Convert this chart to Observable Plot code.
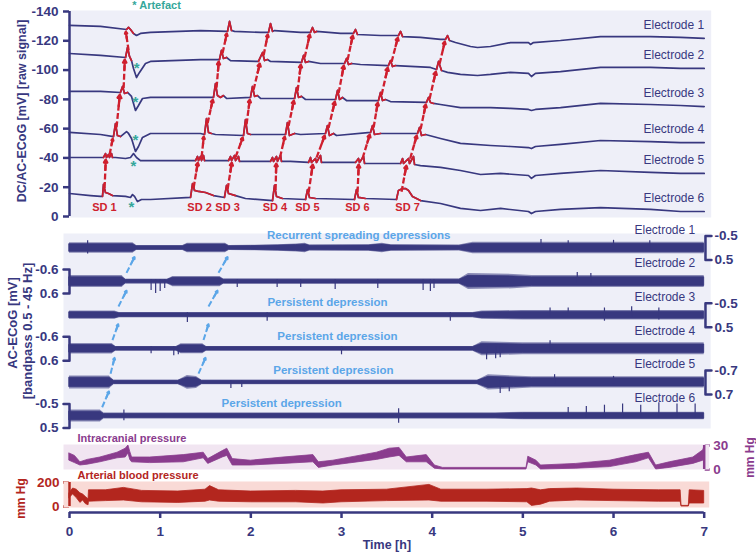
<!DOCTYPE html>
<html><head><meta charset="utf-8">
<script src="https://cdn.jsdelivr.net/npm/d3@7"></script>
<script src="https://cdn.jsdelivr.net/npm/@observablehq/plot@0.6"></script>
<style>
body{margin:0;background:#fff;}
#chart{position:relative;width:756px;height:554px;overflow:hidden;}
#chart g[aria-label*="axis"] line,#chart g[aria-label*="axis tick"] path{stroke-width:2.5px;}
</style></head>
<body><div id="chart"></div>
<script>
// ---------------- DATA ----------------
const electrodeNames = ["Electrode 1","Electrode 2","Electrode 3","Electrode 4","Electrode 5","Electrode 6"];
const sdNames = ["SD 1","SD 2","SD 3","SD 4","SD 5","SD 6","SD 7"];
const sdLabelT = [0.386,1.434,1.743,2.266,2.625,3.176,3.728];
const yTicksTop = [0,-20,-40,-60,-80,-100,-120,-140];
const xTicks = [0,1,2,3,4,5,6,7];

// DC/AC-ECoG raw traces [time h, mV]
const E1 = [[0,-130.5],[0.342,-129.8],[0.629,-127.7],[0.651,-129.1],[0.673,-127.7],[0.706,-125.0],[0.739,-123.6],[0.783,-125.0],[0.893,-125.7],[1.445,-127.0],[1.743,-126.4],[1.765,-133.2],[1.787,-127.0],[1.820,-126.4],[2.107,-125.7],[2.195,-125.7],[2.217,-131.8],[2.239,-126.4],[2.261,-127.0],[2.548,-125.7],[2.658,-125.7],[2.680,-129.1],[2.702,-125.7],[2.724,-126.4],[2.989,-125.0],[3.132,-125.0],[3.154,-127.7],[3.176,-124.3],[3.430,-123.6],[3.628,-123.6],[3.651,-126.4],[3.673,-122.9],[3.871,-122.3],[4.092,-120.9],[4.147,-120.9],[4.169,-123.6],[4.191,-120.2],[4.257,-118.8],[4.423,-116.1],[4.500,-115.4],[4.643,-116.1],[4.864,-118.8],[5.062,-118.8],[5.084,-117.5],[5.117,-118.8],[5.415,-120.2],[5.856,-122.9],[6.408,-122.9],[6.739,-122.3],[7,-121.6]];
const E2 = [[0,-111.3],[0.342,-110.0],[0.618,-108.6],[0.640,-115.4],[0.662,-109.3],[0.684,-106.5],[0.706,-101.1],[0.739,-94.9],[0.772,-98.4],[0.838,-104.5],[0.893,-105.9],[1.445,-107.2],[1.654,-107.2],[1.676,-113.4],[1.698,-107.9],[1.732,-108.6],[1.776,-106.5],[2.084,-105.9],[2.129,-112.0],[2.151,-106.5],[2.184,-107.2],[2.217,-105.9],[2.559,-105.2],[2.581,-110.0],[2.603,-105.2],[2.636,-105.9],[2.768,-104.5],[3.033,-104.5],[3.055,-107.9],[3.077,-103.8],[3.110,-104.5],[3.209,-103.8],[3.518,-103.1],[3.540,-106.5],[3.562,-102.4],[3.595,-103.1],[3.981,-101.8],[4.048,-100.4],[4.070,-105.9],[4.103,-99.7],[4.169,-98.4],[4.312,-97.0],[4.500,-96.3],[4.643,-97.0],[4.864,-98.4],[5.062,-97.7],[5.095,-95.6],[5.139,-97.7],[5.415,-99.0],[5.856,-101.8],[6.408,-101.8],[6.739,-101.1],[7,-101.1]];
const E3 = [[0,-85.4],[0.342,-85.4],[0.562,-84.7],[0.585,-88.8],[0.607,-84.0],[0.640,-84.7],[0.684,-82.0],[0.728,-72.4],[0.761,-75.8],[0.805,-80.6],[0.893,-81.3],[1.445,-81.3],[1.588,-81.3],[1.610,-90.8],[1.632,-82.6],[1.665,-81.3],[1.698,-82.6],[1.732,-80.6],[1.996,-81.3],[2.018,-88.8],[2.041,-82.0],[2.073,-82.6],[2.107,-80.6],[2.482,-80.6],[2.504,-88.1],[2.526,-81.3],[2.559,-82.0],[2.603,-79.9],[2.934,-79.9],[2.956,-86.1],[2.978,-79.9],[3.011,-81.3],[3.055,-79.2],[3.408,-79.2],[3.430,-84.7],[3.452,-79.2],[3.485,-79.9],[3.540,-78.5],[3.937,-77.9],[3.959,-81.3],[3.981,-77.9],[4.015,-77.2],[4.092,-76.5],[4.312,-74.4],[4.643,-74.4],[4.864,-73.8],[5.062,-73.1],[5.095,-72.4],[5.139,-73.1],[5.415,-74.4],[5.856,-77.2],[6.408,-76.5],[6.739,-75.8],[7,-75.1]];
const E4 = [[0,-57.4],[0.342,-56.0],[0.485,-54.6],[0.507,-63.5],[0.529,-55.3],[0.562,-54.6],[0.629,-58.0],[0.651,-56.7],[0.684,-53.3],[0.728,-44.4],[0.761,-47.8],[0.805,-54.0],[0.893,-56.7],[1.445,-56.7],[1.489,-56.0],[1.511,-66.9],[1.533,-57.4],[1.566,-56.7],[1.610,-56.0],[1.919,-55.3],[1.941,-66.2],[1.963,-56.7],[1.996,-56.0],[2.382,-56.0],[2.404,-64.2],[2.426,-55.3],[2.482,-56.7],[2.548,-56.0],[2.823,-56.7],[2.845,-62.1],[2.867,-55.3],[2.912,-56.7],[2.945,-55.3],[3.320,-57.4],[3.342,-62.1],[3.364,-56.0],[3.430,-56.7],[3.838,-56.7],[3.860,-60.8],[3.882,-55.3],[3.926,-56.0],[4.092,-53.3],[4.312,-49.9],[4.643,-48.5],[4.864,-47.8],[5.062,-47.1],[5.095,-46.4],[5.139,-47.8],[5.415,-49.2],[5.856,-51.9],[6.408,-51.2],[6.739,-50.5],[7,-50.5]];
const E5 = [[0,-40.3],[0.342,-40.3],[0.375,-40.3],[0.397,-43.0],[0.408,-40.3],[0.430,-42.3],[0.441,-40.3],[0.463,-43.0],[0.474,-40.3],[0.507,-40.3],[0.618,-39.6],[0.673,-40.3],[0.706,-43.0],[0.739,-40.3],[0.783,-38.2],[0.893,-38.2],[1.390,-38.2],[1.412,-41.0],[1.423,-38.2],[1.445,-41.0],[1.456,-38.2],[1.478,-41.7],[1.489,-38.2],[1.555,-38.2],[1.754,-38.2],[1.776,-41.0],[1.787,-38.2],[1.820,-41.7],[1.831,-38.2],[1.864,-41.0],[1.875,-37.6],[1.941,-37.6],[2.217,-37.6],[2.239,-40.3],[2.250,-37.6],[2.283,-41.0],[2.294,-37.6],[2.327,-41.7],[2.338,-37.6],[2.437,-37.6],[2.636,-36.9],[2.658,-40.3],[2.669,-36.9],[2.713,-39.6],[2.724,-36.9],[2.768,-41.7],[2.779,-36.9],[2.879,-36.9],[3.154,-36.9],[3.187,-39.6],[3.198,-36.9],[3.243,-41.0],[3.254,-36.2],[3.375,-36.2],[3.651,-36.2],[3.673,-39.6],[3.684,-36.2],[3.739,-39.6],[3.750,-36.2],[3.794,-41.0],[3.805,-35.5],[3.871,-34.8],[4.092,-33.5],[4.312,-31.4],[4.533,-28.7],[4.754,-29.4],[5.062,-28.0],[5.095,-26.0],[5.139,-28.0],[5.415,-29.4],[5.856,-31.4],[6.408,-30.1],[6.739,-29.4],[7,-29.4]];
const E6 = [[0,-15.7],[0.232,-14.3],[0.342,-13.7],[0.364,-13.7],[0.375,-21.9],[0.397,-16.4],[0.430,-15.7],[0.474,-14.3],[0.618,-13.7],[0.673,-13.0],[0.695,-15.0],[0.717,-13.7],[0.750,-10.2],[0.794,-11.6],[0.893,-11.6],[1.335,-13.0],[1.357,-22.5],[1.379,-17.8],[1.423,-17.1],[1.500,-16.4],[1.588,-14.3],[1.709,-13.0],[1.732,-21.2],[1.754,-15.7],[1.831,-14.3],[1.941,-12.3],[2.239,-10.9],[2.261,-21.2],[2.283,-13.7],[2.349,-12.3],[2.603,-11.6],[2.625,-18.4],[2.647,-13.0],[2.713,-12.3],[3.143,-11.6],[3.165,-18.4],[3.187,-13.0],[3.265,-12.3],[3.606,-11.6],[3.628,-17.8],[3.673,-19.1],[3.706,-19.1],[3.739,-17.8],[3.783,-13.7],[3.871,-10.9],[4.092,-8.9],[4.312,-5.5],[4.533,-4.1],[4.754,-5.5],[5.062,-3.4],[5.095,-2.0],[5.139,-3.4],[5.415,-4.8],[5.856,-6.1],[6.408,-4.8],[6.739,-3.4],[7,-3.4]];

// time windows drawn in red (spreading depressions), per electrode 1..6
const sdWindows = [
  [[0.629,0.706],[1.743,1.787],[2.195,2.239],[2.658,2.724],[3.132,3.176],[3.628,3.673],[4.147,4.191]],
  [[0.618,0.684],[1.654,1.732],[2.084,2.184],[2.559,2.636],[3.033,3.110],[3.518,3.595],[4.048,4.103]],
  [[0.562,0.640],[1.588,1.698],[1.996,2.073],[2.482,2.559],[2.934,3.011],[3.408,3.485],[3.937,4.015]],
  [[0.485,0.562],[1.489,1.566],[1.919,1.996],[2.382,2.482],[2.823,2.912],[3.320,3.430],[3.838,3.926]],
  [[0.375,0.474],[1.390,1.489],[1.754,1.875],[2.217,2.338],[2.636,2.779],[3.154,3.254],[3.651,3.805]],
  [[0.364,0.474],[1.335,1.588],[1.709,1.831],[2.239,2.349],[2.603,2.713],[3.143,3.265],[3.606,3.871]]
];
// SD propagation chains, electrode 6 -> 1: [time, peak mV, baseline mV]
const sdSpikes = [
  [[0.375,-21.9,-13.7],[0.430,-43.0,-40.3],[0.507,-63.5,-54.6],[0.585,-88.8,-84.7],[0.640,-115.4,-108.6],[0.651,-129.1,-127.7]],
  [[1.357,-22.5,-13.0],[1.445,-41.7,-38.2],[1.511,-66.9,-56.0],[1.610,-90.8,-81.3],[1.676,-113.4,-107.2],[1.765,-133.2,-126.4]],
  [[1.732,-21.2,-13.0],[1.820,-41.7,-38.2],[1.941,-66.2,-55.3],[2.018,-88.8,-81.3],[2.129,-112.0,-105.9],[2.217,-131.8,-125.7]],
  [[2.261,-21.2,-10.9],[2.310,-41.7,-37.6],[2.404,-64.2,-56.0],[2.504,-88.1,-80.6],[2.581,-110.0,-105.2],[2.680,-129.1,-125.7]],
  [[2.625,-18.4,-11.6],[2.713,-41.7,-36.9],[2.845,-62.1,-56.7],[2.956,-86.1,-79.9],[3.055,-107.9,-104.5],[3.154,-127.7,-125.0]],
  [[3.165,-18.4,-11.6],[3.220,-41.0,-36.9],[3.342,-62.1,-57.4],[3.430,-84.7,-79.2],[3.540,-106.5,-103.1],[3.651,-126.4,-123.6]],
  [[3.650,-19.1,-11.6],[3.745,-41.0,-36.2],[3.860,-60.8,-56.7],[3.959,-81.3,-77.9],[4.070,-105.9,-100.4],[4.169,-123.6,-120.9]]
];
const asteriskPos = [[0.740,-103.8],[0.728,-80.6],[0.728,-54.6],[0.706,-36.9],[0.684,-8.9]];
const artefactLabelT = 0.96;

// AC-ECoG (bandpass) : half-amplitude envelope [time h, mV] per electrode
const midRanges = [0.5,0.6,0.5,0.6,0.7,0.5];
const A1 = [[0,0.22],[0.7,0.22],[0.74,0.1],[1.25,0.1],[1.3,0.2],[1.72,0.2],[1.76,0.1],[2.0,0.11],[2.3,0.14],[2.5,0.17],[2.6,0.2],[2.65,0.13],[3.3,0.14],[3.45,0.2],[3.55,0.14],[4.3,0.12],[4.45,0.24],[7,0.24]];
const A2 = [[0,0.3],[0.58,0.3],[0.62,0.12],[1.08,0.12],[1.14,0.26],[1.66,0.26],[1.7,0.13],[4.3,0.13],[4.4,0.4],[4.9,0.36],[5.1,0.3],[7,0.3]];
const A3 = [[0,0.17],[0.5,0.17],[0.55,0.11],[4.45,0.11],[4.55,0.17],[5.0,0.2],[7,0.2]];
const A4 = [[0,0.26],[0.47,0.26],[0.51,0.12],[1.18,0.12],[1.23,0.25],[1.47,0.25],[1.51,0.12],[4.45,0.12],[4.55,0.35],[5.0,0.3],[7,0.3]];
const A5 = [[0,0.38],[0.44,0.38],[0.49,0.13],[1.2,0.13],[1.3,0.4],[1.4,0.35],[1.46,0.13],[4.5,0.13],[4.62,0.45],[4.9,0.38],[5.1,0.33],[7,0.33]];
const A6 = [[0,0.25],[0.34,0.25],[0.38,0.12],[4.7,0.13],[5.0,0.16],[7,0.16]];
// isolated deflections [electrode, time, low mV, high mV]
const midSpikes = [[1,0.2,-0.3,0.25],[1,5.2,-0.35,0.1],[1,5.5,-0.3,0.1],[1,6.0,-0.32,0.1],[1,6.4,-0.3,0.1],[2,0.9,-0.1,0.45],[2,0.95,-0.1,0.6],[2,1.0,-0.1,0.5],[2,1.05,-0.1,0.35],[2,1.85,-0.1,0.3],[2,2.29,-0.1,0.3],[2,2.55,-0.1,0.3],[2,2.93,-0.1,0.4],[2,3.4,-0.1,0.35],[2,3.9,-0.1,0.45],[2,3.98,-0.1,0.5],[2,4.02,-0.1,0.35],[2,5.6,-0.45,0.1],[2,5.75,-0.4,0.1],[3,1.3,-0.1,0.3],[3,2.18,-0.1,0.25],[3,4.2,-0.1,0.25],[3,5.3,-0.3,0.1],[3,5.5,-0.3,0.1],[3,5.9,-0.3,0.25],[3,6.2,-0.35,0.1],[3,6.5,-0.3,0.2],[4,0.9,-0.1,0.25],[4,1.15,-0.1,0.35],[4,1.2,-0.1,0.3],[4,3.0,-0.1,0.3],[4,4.6,-0.1,0.55],[4,4.7,-0.1,0.5],[4,4.75,-0.1,0.45],[4,5.3,-0.4,0.1],[5,1.78,-0.1,0.35],[5,1.9,-0.1,0.3],[5,4.75,-0.1,0.65],[5,4.85,-0.1,0.55],[5,5.35,-0.45,0.1],[5,6.0,-0.35,0.1],[6,0.6,-0.25,0.2],[6,3.63,-0.3,0.3],[6,5.5,-0.35,0.1],[6,5.7,-0.4,0.1],[6,5.9,-0.45,0.1],[6,6.1,-0.5,0.1],[6,6.3,-0.45,0.1],[6,6.5,-0.55,0.1],[6,6.7,-0.5,0.1],[6,6.9,-0.5,0.1]];
// depression propagation arrows [from electrode, time, to electrode, time]
const blueArrows = [[6,0.36,5,0.435],[5,0.453,4,0.497],[4,0.474,3,0.537],[3,0.54,2,0.629],[2,0.629,1,0.717],[5,1.423,4,1.5],[4,1.478,3,1.533],[3,1.533,2,1.632],[2,1.643,1,1.743]];
const blueTexts = [["Recurrent spreading depressions",1,3.19],["Persistent depression",3,2.845],["Persistent depression",4,2.955],["Persistent depression",5,2.91],["Persistent depression",6,2.34]];
const leftBrackets = [2,4,6];
const rightBrackets = [1,3,5];

// Intracranial pressure envelope [time h, low, high] mm Hg
const icp = [[0,11,20],[0.06,8,17],[0.12,5,9],[0.2,6,12],[0.34,9,15],[0.53,14,21],[0.62,15,26],[0.65,20,30],[0.67,12,22],[0.69,9,15],[0.89,8,15],[1.26,9,18],[1.48,14,21],[1.53,7,13],[1.69,15,23],[1.74,17,26],[1.80,5,13],[2.0,5,11],[2.36,7,15],[2.69,9,18],[2.75,2,9],[2.91,5,11],[3.39,12,21],[3.53,15,26],[3.64,17,27],[3.72,9,15],[3.94,9,18],[4.03,1,5],[4.12,0,2],[5.04,0,2],[5.06,9,16],[5.15,5,11],[5.2,0,5],[5.59,1,7],[5.96,3,11],[6.25,9,18],[6.39,14,21],[6.47,0,5],[6.62,2,9],[6.88,7,15],[6.99,11,24],[7,15,28]];
// Arterial blood pressure envelope [time h, low, high] mm Hg
const abp = [[0,70,110],[0.04,100,150],[0.08,70,140],[0.12,30,110],[0.15,50,100],[0.18,20,80],[0.21,10,60],[0.215,40,135],[0.4,45,135],[0.6,50,155],[0.8,35,130],[1.2,30,125],[1.5,40,140],[1.55,50,170],[1.65,40,135],[2.0,35,125],[2.5,35,130],[2.8,25,125],[3.0,35,135],[3.5,45,140],[3.97,50,180],[4.1,40,140],[4.6,40,140],[5.05,35,145],[5.1,5,150],[5.2,15,135],[5.3,40,145],[5.6,50,150],[6.0,45,140],[6.5,40,135],[6.74,40,135],[6.75,0,5],[6.83,0,5],[6.84,25,135],[7,25,130]];

// ---------------- STYLE ----------------
const NAVY="#38387f", RED="#cf1f2e", TEAL="#35a79b", BLUE="#5ba6e8", BG="#eeeff8";
const PURPLE="#8a3c8e", PURPLE_BG="#f1e5f1", ABP_RED="#b3261e", ABP_BG="#f9dad6";
const FONT="Liberation Sans, Arial, Helvetica, sans-serif";
const css = c => `font-family:${FONT};font-size:13.5px;font-weight:bold;color:${c};background:transparent;overflow:visible;`;
const W=756, ML=69, MR=52.3;
const chart=document.getElementById("chart");
function place(node, top){const d=document.createElement("div");d.style.cssText=`position:absolute;left:0;top:${top}px;`;d.appendChild(node);chart.appendChild(d);}

// ---------------- TOP PANEL ----------------
const traces=[E1,E2,E3,E4,E5,E6];
const topRows=traces.flatMap((tr,i)=>tr.map(([t,v])=>({e:i+1,t,v})));
let wid=0;
const redRows=sdWindows.flatMap((wins,i)=>wins.flatMap(([t0,t1])=>{const w=wid++;return traces[i].filter(([t])=>t>=t0-1e-9&&t<=t1+1e-9).map(([t,v])=>({w,t,v}));}));
const sdArrows=sdSpikes.flatMap(ch=>ch.slice(0,-1).map((a,i)=>{const b=ch[i+1];return {x1:a[0]+0.012,y1:a[1]+(a[2]-a[1])*0.3,x2:b[0]-0.03,y2:b[2]+1.5};}));
const head=(arr)=>arr.map(d=>({x1:d.x1+(d.x2-d.x1)*0.65,y1:d.y1+(d.y2-d.y1)*0.65,x2:d.x2,y2:d.y2}));
const lastPts=traces.map((tr,i)=>({t:tr[tr.length-1][0],v:tr[tr.length-1][1],label:electrodeNames[i]}));

place(Plot.plot({
  width:W,height:222,marginTop:11,marginBottom:6,marginLeft:ML,marginRight:MR,style:css(NAVY),
  x:{domain:[0,7],axis:null},
  y:{domain:[0,-140],ticks:yTicksTop,tickFormat:d=>String(d),tickSize:6,tickPadding:5,label:null},
  marks:[
    Plot.frame({fill:BG,stroke:"none",insetTop:-1,insetBottom:-1,insetRight:-7}),
    Plot.ruleX([0],{y1:0,y2:-140,stroke:NAVY,strokeWidth:2.5}),
    Plot.line(topRows,{x:"t",y:"v",z:"e",stroke:NAVY,strokeWidth:1.7}),
    Plot.line(redRows,{x:"t",y:"v",z:"w",stroke:RED,strokeWidth:1.7}),
    Plot.link(sdArrows,{x1:"x1",y1:"y1",x2:"x2",y2:"y2",stroke:RED,strokeWidth:2.3,strokeDasharray:"6,2.5"}),
    Plot.arrow(head(sdArrows),{x1:"x1",y1:"y1",x2:"x2",y2:"y2",stroke:RED,strokeWidth:2.3,headLength:7}),
    Plot.text(asteriskPos,{x:d=>d[0],y:d=>d[1],text:()=>"*",fill:TEAL,fontSize:15,fontWeight:"bold",dy:4}),
    Plot.text(["* Artefact"],{x:()=>artefactLabelT,y:()=>-140,text:d=>d,dy:-6,fill:TEAL,fontSize:11,fontWeight:"bold"}),
    Plot.text(sdNames,{x:(d,i)=>sdLabelT[i],y:()=>0,text:d=>d,dy:-9,fill:RED,fontSize:11,fontWeight:"bold"}),
    Plot.text(lastPts,{x:"t",y:"v",text:"label",textAnchor:"end",dy:-13,fontSize:12,fontWeight:"normal",fill:NAVY}),
    Plot.text(["DC/AC-ECoG [mV] [raw signal]"],{frameAnchor:"left",text:d=>d,rotate:-90,textAnchor:"middle",lineAnchor:"middle",dx:-48,dy:-3,fontSize:12.5,fontWeight:"bold",fill:NAVY})
  ]
}),0);

// ---------------- MIDDLE PANEL ----------------
const K=12/33.6;
const yAt=(row,mv)=>row+mv/midRanges[row-1]*K;
const amps=[A1,A2,A3,A4,A5,A6];
const midBand=amps.flatMap((arr,i)=>arr.map(([t,a])=>({e:i+1,t,lo:yAt(i+1,-a),hi:yAt(i+1,a),lo2:yAt(i+1,-a*0.72),hi2:yAt(i+1,a*0.72)})));
const spikeRows=midSpikes.map(([e,t,lo,hi])=>({t,lo:yAt(e,lo),hi:yAt(e,hi)}));
const bArrows=blueArrows.map(([r0,t0,r1,t1])=>({x1:t0,y1:r0-0.26,x2:t1,y2:r1+0.27}));
const tk=6/90.67;
const lb=leftBrackets.map(r=>({r,top:r-K,bot:r+K,rng:midRanges[r-1]}));
const rb=rightBrackets.map(r=>({r,top:r-K,bot:r+K,rng:midRanges[r-1]}));
const XR=7.014;
const bracketLines=[
  ...lb.map(b=>({k:"L"+b.r,pts:[[-tk,b.top],[0,b.top],[0,b.bot],[-tk,b.bot]]})),
  ...rb.map(b=>({k:"R"+b.r,pts:[[XR+tk,b.top],[XR,b.top],[XR,b.bot],[XR+tk,b.bot]]}))
].flatMap(b=>b.pts.map(([x,y])=>({k:b.k,x,y})));

place(Plot.plot({
  width:W,height:210,marginTop:11,marginBottom:4,marginLeft:ML,marginRight:MR,style:css(NAVY),
  x:{domain:[0,7],axis:null},
  y:{domain:[1,6],range:[25.5,193.5],axis:null},
  marks:[
    Plot.frame({fill:BG,stroke:"none",insetLeft:-6,insetRight:-6.5}),
    Plot.areaY(midBand,{x:"t",y1:"lo",y2:"hi",z:"e",fill:NAVY,fillOpacity:0.55}),
    Plot.areaY(midBand,{x:"t",y1:"lo2",y2:"hi2",z:"e",fill:NAVY,stroke:NAVY,strokeWidth:0.8}),
    Plot.ruleX(spikeRows,{x:"t",y1:"lo",y2:"hi",stroke:NAVY,strokeWidth:1.2}),
    Plot.line(bracketLines,{x:"x",y:"y",z:"k",stroke:NAVY,strokeWidth:2.5}),
    Plot.text(lb,{x:()=>0,y:"top",text:b=>"-"+b.rng,textAnchor:"end",dx:-11}),
    Plot.text(lb,{x:()=>0,y:"bot",text:b=>String(b.rng),textAnchor:"end",dx:-11}),
    Plot.text(rb,{x:()=>XR,y:"top",text:b=>"-"+b.rng,textAnchor:"start",dx:9}),
    Plot.text(rb,{x:()=>XR,y:"bot",text:b=>String(b.rng),textAnchor:"start",dx:9}),
    Plot.text(electrodeNames,{x:()=>7,y:(d,i)=>i+1,text:d=>d,textAnchor:"end",dx:-9,dy:-18,fontSize:12,fontWeight:"normal",fill:NAVY}),
    Plot.link(bArrows,{x1:"x1",y1:"y1",x2:"x2",y2:"y2",stroke:BLUE,strokeWidth:2,strokeDasharray:"6,2.5"}),
    Plot.arrow(head(bArrows),{x1:"x1",y1:"y1",x2:"x2",y2:"y2",stroke:BLUE,strokeWidth:2,headLength:7}),
    Plot.text(blueTexts,{x:d=>d[2],y:d=>d[1],text:d=>d[0],dy:-12.5,fill:BLUE,fontSize:11.5,fontWeight:"bold"}),
    Plot.text(["AC-ECoG [mV]"],{frameAnchor:"left",text:d=>d,rotate:-90,textAnchor:"middle",lineAnchor:"middle",dx:-57,dy:-8,fontSize:13,fontWeight:"bold",fill:NAVY}),
    Plot.text(["[bandpass 0.5 - 45 Hz]"],{frameAnchor:"left",text:d=>d,rotate:-90,textAnchor:"middle",lineAnchor:"middle",dx:-42,dy:0,fontSize:13,fontWeight:"bold",fill:NAVY})
  ]
}),222);

// ---------------- ICP ----------------
place(Plot.plot({
  width:W,height:40,marginTop:12,marginBottom:3,marginLeft:ML,marginRight:MR,style:css(PURPLE),
  x:{domain:[0,7],axis:null},
  y:{domain:[0,30],range:[37,13],axis:"right",ticks:[0,30],tickSize:5,tickPadding:4,label:null},
  marks:[
    Plot.frame({fill:PURPLE_BG,stroke:"none",insetLeft:-6,insetRight:-5}),
    Plot.areaY(icp,{x:d=>d[0],y1:d=>d[1],y2:d=>d[2],fill:PURPLE,stroke:PURPLE,strokeWidth:0.8}),
    Plot.ruleX([7],{y1:0,y2:30,stroke:PURPLE,strokeWidth:2.5}),
    Plot.text(["Intracranial pressure"],{frameAnchor:"top-left",text:d=>d,textAnchor:"start",lineAnchor:"middle",dx:8,dy:-6,fontSize:11,fontWeight:"bold",fill:PURPLE}),
    Plot.text(["mm Hg"],{frameAnchor:"right",text:d=>d,rotate:-90,textAnchor:"middle",lineAnchor:"middle",dx:46,dy:0.5,fontSize:12,fontWeight:"bold",fill:PURPLE})
  ]
}),432);

// ---------------- ABP ----------------
place(Plot.plot({
  width:W,height:36,marginTop:9,marginBottom:1,marginLeft:ML,marginRight:MR,style:css(ABP_RED),
  x:{domain:[0,7],axis:null},
  y:{domain:[0,200],range:[34,10],axis:"left",ticks:[0,200],tickSize:6,tickPadding:4,label:null},
  marks:[
    Plot.frame({fill:ABP_BG,stroke:"none",insetLeft:-6,insetRight:-5}),
    Plot.areaY(abp,{x:d=>d[0],y1:d=>d[1],y2:d=>d[2],fill:ABP_RED,stroke:ABP_RED,strokeWidth:0.8}),
    Plot.ruleX([0],{y1:0,y2:200,stroke:ABP_RED,strokeWidth:2.5}),
    Plot.text(["Arterial blood pressure"],{frameAnchor:"top-left",text:d=>d,textAnchor:"start",lineAnchor:"middle",dx:8,dy:-6,fontSize:11,fontWeight:"bold",fill:ABP_RED}),
    Plot.text(["mm Hg"],{frameAnchor:"left",text:d=>d,rotate:-90,textAnchor:"middle",lineAnchor:"middle",dx:-48,dy:4,fontSize:12,fontWeight:"bold",fill:ABP_RED})
  ]
}),472);

// ---------------- X AXIS ----------------
place(Plot.plot({
  width:W,height:46,marginTop:0,marginBottom:42,marginLeft:ML,marginRight:MR,style:css(NAVY),
  x:{domain:[0,7],ticks:xTicks,tickFormat:d=>String(d),tickSize:6,tickPadding:8,label:null},
  y:{domain:[0,1],range:[4,4],axis:null},
  marks:[
    Plot.ruleY([0],{x1:0,x2:7,stroke:NAVY,strokeWidth:2.5}),
    Plot.text(["Time [h]"],{frameAnchor:"bottom",text:d=>d,lineAnchor:"middle",dy:32,fontSize:12.5,fontWeight:"bold",fill:NAVY})
  ]
}),508);
</script>
</body></html>
